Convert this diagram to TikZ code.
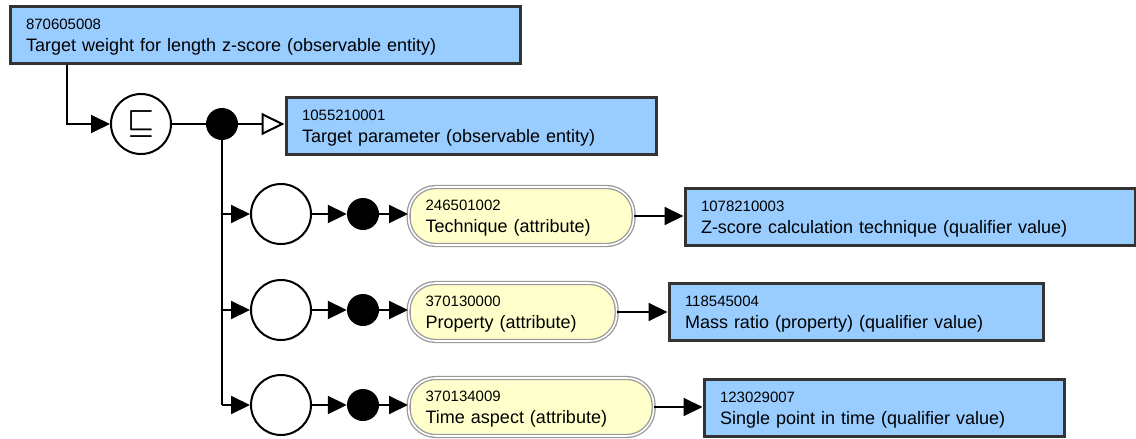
\documentclass[tikz,border=0pt]{standalone}
\usepackage{fontspec}
\setmainfont{Liberation Sans}
\usetikzlibrary{arrows.meta}

\definecolor{conceptblue}{HTML}{99CCFF}
\definecolor{attryellow}{HTML}{FFFFCC}
\definecolor{boxline}{HTML}{333333}
\definecolor{attrline}{HTML}{999999}

\newcommand{\sctid}[1]{\rule{0pt}{15pt}{\fontsize{15}{22}\selectfont #1}}
\newcommand{\sctfont}{\fontsize{18}{22}\selectfont}

\tikzset{
  concept/.style={draw=boxline, line width=3pt, fill=conceptblue, anchor=west,
    align=left, inner xsep=16pt, minimum height=57pt, font=\sctfont},
  attribute/.style={draw=attrline, line width=1.3pt, double=white, double distance=1.6pt,
    fill=attryellow, rounded corners=27pt, anchor=west, align=left,
    inner xsep=17pt, minimum height=58pt, font=\sctfont},
  group/.style={circle, draw, line width=2pt, minimum size=60pt, inner sep=0pt},
  conj/.style={circle, fill=black, minimum size=32pt, inner sep=0pt},
  flow/.style={line width=2pt, -{Triangle[length=19pt,width=18pt]}},
  isa/.style={line width=2pt, -{Triangle[open,length=23pt,width=22pt,fill=white]}},
}

\begin{document}
\begin{tikzpicture}[x=1pt,y=-1pt]
    \useasboundingbox (0,0) rectangle (1136,439);

    % focus concept
    \node[concept, text width=478pt] (top) at (8.5,35)
        {\sctid{870605008}\\Target weight for length z-score (observable entity)};

    % definition status and parent
    \node[group] (sub) at (141,124) {\scalebox{3}{\boldmath$\sqsubseteq$}};
    \node[conj] (dot0) at (222,124) {};
    \node[concept, text width=338pt] (parent) at (284.5,126)
        {\sctid{1055210001}\\Target parameter (observable entity)};

    \draw[flow] ([xshift=58.5pt]top.south west) |- (sub);
    \draw[line width=2pt] (sub) -- (dot0);
    \draw[isa] (dot0.east) -- (dot0 -| parent.west);
    \draw[line width=2pt] (dot0.center) -- (dot0 |- 0,405);

    % role groups
    \node[group] (g1) at (281,214) {};
    \node[group] (g2) at (281,310) {};
    \node[group] (g3) at (281,405) {};
    \node[conj] (d1) at (363,214) {};
    \node[conj] (d2) at (363,310) {};
    \node[conj] (d3) at (363,405) {};

    % attributes
    \node[attribute, text width=191pt] (a1) at (408,216)
        {\sctid{246501002}\\Technique (attribute)};
    \node[attribute, text width=174pt] (a2) at (408,312)
        {\sctid{370130000}\\Property (attribute)};
    \node[attribute, text width=211pt] (a3) at (408,407)
        {\sctid{370134009}\\Time aspect (attribute)};

    % values
    \node[concept, text width=418pt] (v1) at (683.5,217)
        {\sctid{1078210003}\\Z-score calculation technique (qualifier value)};
    \node[concept, text width=342pt] (v2) at (667.5,312)
        {\sctid{118545004}\\Mass ratio (property) (qualifier value)};
    \node[concept, text width=328pt] (v3) at (702.5,407.5)
        {\sctid{123029007}\\Single point in time (qualifier value)};

    % links
    \draw[flow] (dot0 |- g1) -- (g1);
    \draw[flow] (dot0 |- g2) -- (g2);
    \draw[flow] (dot0 |- g3) -- (g3);
    \draw[flow] (g1) -- (d1);
    \draw[flow] (g2) -- (d2);
    \draw[flow] (g3) -- (d3);
    \draw[flow] (d1.east) -- (d1 -| a1.west);
    \draw[flow] (d2.east) -- (d2 -| a2.west);
    \draw[flow] (d3.east) -- (d3 -| a3.west);
    \draw[flow] (a1.east) -- (a1 -| v1.west);
    \draw[flow] (a2.east) -- (a2 -| v2.west);
    \draw[flow] (a3.east) -- (a3 -| v3.west);
\end{tikzpicture}
\end{document}
